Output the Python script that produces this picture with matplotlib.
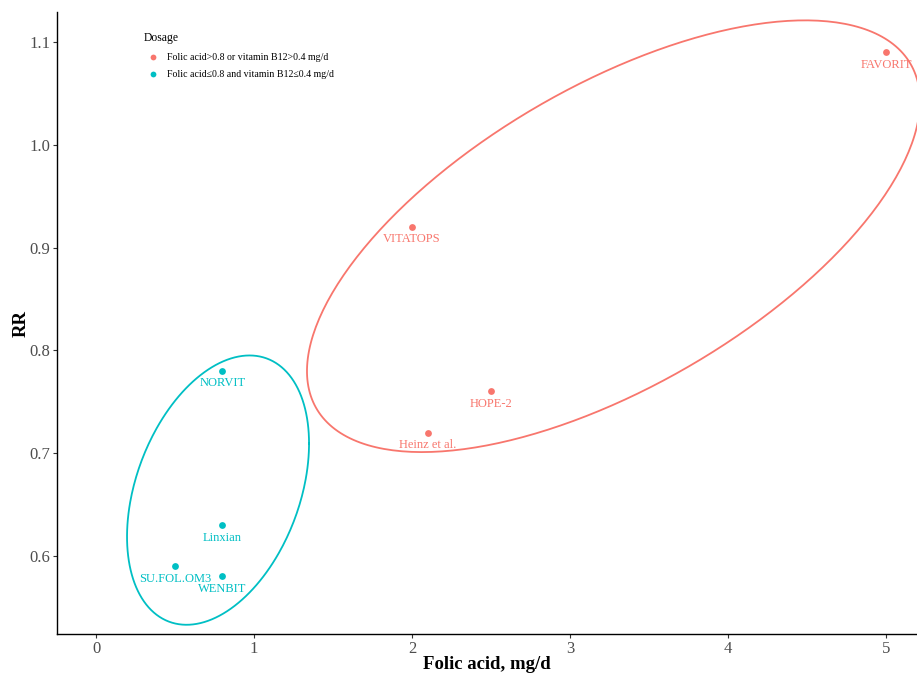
import numpy as np
import matplotlib
matplotlib.use('Agg')
import matplotlib.pyplot as plt

plt.rcParams['font.family'] = ['Liberation Serif', 'DejaVu Serif']

# data
trials = ['FAVORIT', 'VITATOPS', 'HOPE-2', 'Heinz et al.',
          'NORVIT', 'Linxian', 'SU.FOL.OM3', 'WENBIT']
folic = [5.0, 2.0, 2.5, 2.1, 0.8, 0.8, 0.5, 0.8]
rr = [1.09, 0.92, 0.76, 0.72, 0.78, 0.63, 0.59, 0.58]
group = [0, 0, 0, 0, 1, 1, 1, 1]
group_names = ['Folic acid>0.8 or vitamin B12>0.4 mg/d',
               'Folic acid\u22640.8 and vitamin B12\u22640.4 mg/d']
colors = ['#F8766D', '#00BFC4']

# group ellipses (data units): centre, half x-extent, half y-extent, tilt corr
ell_x0 = [3.275, 0.772]
ell_y0 = [0.911, 0.664]
ell_hw = [1.940, 0.576]
ell_hh = [0.210, 0.131]
ell_rho = [0.625, 0.346]

fig = plt.figure(figsize=(9.17, 6.74), dpi=100)
ax = fig.add_axes([0.0622, 0.0593, 0.9378, 0.9227])

folic = np.array(folic)
rr = np.array(rr)
group = np.array(group)

t = np.linspace(0, 2 * np.pi, 300)
for g in range(2):
    m = group == g
    ax.scatter(folic[m], rr[m], s=24, color=colors[g], label=group_names[g],
               zorder=3, linewidths=0)
    ex = ell_x0[g] + ell_hw[g] * np.cos(t)
    ey = ell_y0[g] + ell_hh[g] * (ell_rho[g] * np.cos(t)
                                  + np.sqrt(1 - ell_rho[g] ** 2) * np.sin(t))
    ax.plot(ex, ey, color=colors[g], lw=1.3)

for name, xv, yv, g in zip(trials, folic, rr, group):
    ax.annotate(name, (xv, yv), xytext=(0, -9), textcoords='offset points',
                ha='center', va='center', fontsize=9, color=colors[g])

ax.set_xlim(-0.247, 5.196)
ax.set_ylim(0.524, 1.129)
ax.set_xticks([0, 1, 2, 3, 4, 5])
ax.set_yticks([0.6, 0.7, 0.8, 0.9, 1.0, 1.1])
ax.set_yticklabels(['0.6', '0.7', '0.8', '0.9', '1.0', '1.1'])
ax.tick_params(labelsize=12, labelcolor='#4d4d4d', color='#333333',
               length=3, width=0.8, pad=2)
for s in ['top', 'right']:
    ax.spines[s].set_visible(False)
for s in ['left', 'bottom']:
    ax.spines[s].set_linewidth(1.0)
ax.set_xlabel('Folic acid, mg/d', fontsize=13.5, fontweight='bold', labelpad=-1)
ax.set_ylabel('RR', fontsize=13.5, fontweight='bold', labelpad=-0.5)

leg = ax.legend(title='Dosage', loc='upper left', bbox_to_anchor=(0.09, 0.982),
                frameon=False, fontsize=7.1, title_fontsize=8.4, markerscale=0.85,
                handletextpad=0.45, labelspacing=0.85, alignment='left')

fig.savefig('out.png', dpi=100)
